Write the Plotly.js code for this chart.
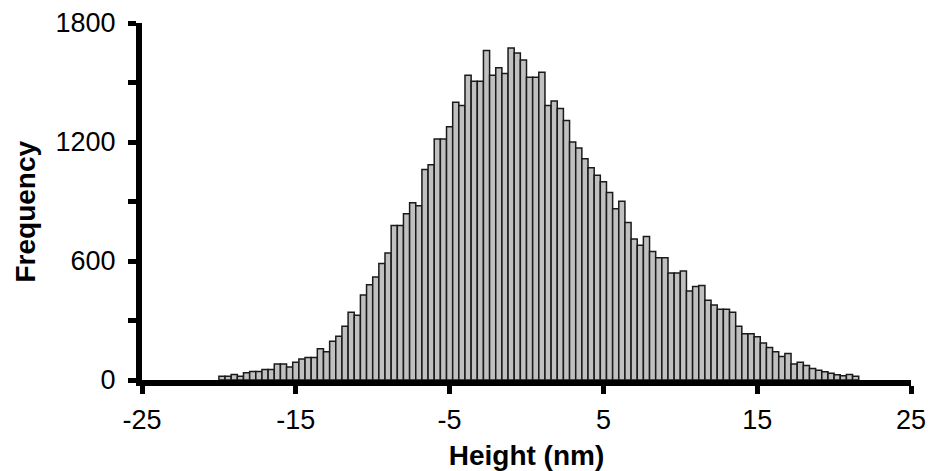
<!DOCTYPE html>
<html><head><meta charset="utf-8">
<script src="https://cdn.plot.ly/plotly-3.0.1.min.js"></script>
<style>html,body{margin:0;padding:0;background:#fff}</style>
</head><body><div id="chart" style="width:928px;height:471px"></div>
<script>
// Bin centers (nm), bin width 0.4 nm
const binCenters = [-19.8,-19.4,-19.0,-18.6,-18.2,-17.8,-17.4,-17.0,-16.6,-16.2,-15.8,-15.4,-15.0,-14.6,-14.2,-13.8,-13.4,-13.0,-12.6,-12.2,-11.8,-11.4,-11.0,
  -10.6,-10.2,-9.8,-9.4,-9.0,-8.6,-8.2,-7.8,-7.4,-7.0,-6.6,-6.2,-5.8,-5.4,-5.0,-4.6,-4.2,-3.8,-3.4,-3.0,-2.6,-2.2,-1.8,-1.4,-1.0,-0.6,-0.2,
  0.2,0.6,1.0,1.4,1.8,2.2,2.6,3.0,3.4,3.8,4.2,4.6,5.0,5.4,5.8,6.2,6.6,7.0,7.4,7.8,8.2,8.6,9.0,9.4,9.8,10.2,10.6,11.0,11.4,11.8,
  12.2,12.6,13.0,13.4,13.8,14.2,14.6,15.0,15.4,15.8,16.2,16.6,17.0,17.4,17.8,18.2,18.6,19.0,19.4,19.8,20.2,20.6,21.0,21.4];
const frequency = [19,19,28,19,36,43,43,53,53,81,81,66,89,106,114,114,158,143,196,220,271,342,326,
  428,480,519,587,640,779,779,838,894,878,1061,1085,1215,1215,1277,1400,1384,1537,1506,1506,1661,1537,1574,1546,1674,1649,1614,
  1527,1527,1552,1384,1407,1369,1308,1200,1170,1116,1070,1032,1000,946,863,901,794,711,680,723,648,617,617,540,540,549,449,472,477,402,
  378,357,357,342,271,233,233,218,186,164,143,119,134,81,89,73,58,49,41,34,26,21,28,19];
const binWidth = 0.4;
const xTicks = [-25,-15,-5,5,15,25];
const xTickLabels = ['-25','-15','-5','5','15','25'];
const yTicks = [0,600,1200,1800];
const yTickLabels = ['0','600','1200','1800'];
const yMinorTicks = [300,900,1500];
const xTitle = 'Height (nm)';
const yTitle = 'Frequency';

const font = 'Liberation Sans, Arial, sans-serif';
const trace = {
  type: 'bar', x: binCenters, y: frequency, width: binWidth,
  marker: {color: '#c0c0c0', line: {color: '#1a1a1a', width: 1.5}},
  hoverinfo: 'skip'
};
const layout = {
  width: 928, height: 471,
  margin: {l: 142, r: 17, t: 23, b: 91},
  paper_bgcolor: '#fff', plot_bgcolor: '#fff',
  showlegend: false, bargap: 0,
  font: {family: font, color: '#000', size: 27},
  xaxis: {
    range: [-25, 25], tickmode: 'array', tickvals: xTicks, ticktext: xTickLabels,
    showline: true, linewidth: 6, linecolor: '#000', mirror: false,
    ticks: 'outside', ticklen: 8, tickwidth: 5, tickcolor: '#000',
    ticklabelstandoff: 3,
    showgrid: false, zeroline: false,
    tickfont: {family: font, size: 27, color: '#000'},
    title: {text: xTitle, font: {family: font, size: 28, color: '#000', weight: 'bold'}, standoff: 14}
  },
  yaxis: {
    range: [0, 1800], tickmode: 'array', tickvals: yTicks, ticktext: yTickLabels,
    showline: true, linewidth: 6, linecolor: '#000',
    ticks: 'outside', ticklen: 8, tickwidth: 5, tickcolor: '#000',
    ticklabelstandoff: 7,
    minor: {tickvals: yMinorTicks, ticks: 'outside', ticklen: 8, tickwidth: 5, tickcolor: '#000', showgrid: false},
    showgrid: false, zeroline: false,
    tickfont: {family: font, size: 27, color: '#000'}
  },
  annotations: [{
    text: yTitle, textangle: -90, showarrow: false,
    xref: 'paper', yref: 'paper', x: 0, y: 0.5, xanchor: 'center', yanchor: 'middle',
    xshift: -117, yshift: -10,
    font: {family: font, size: 28, color: '#000', weight: 'bold'}
  }]
};
Plotly.newPlot('chart', [trace], layout, {displayModeBar: false, staticPlot: true});
</script></body></html>
